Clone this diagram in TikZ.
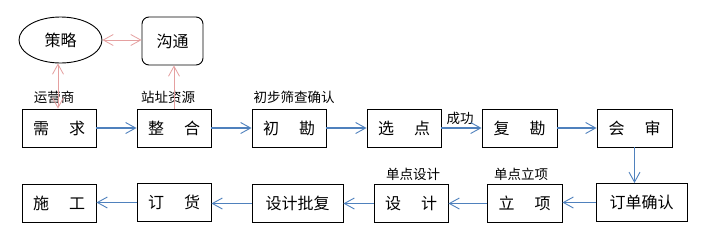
\documentclass[tikz,border=0pt]{standalone}
\usepackage{fontspec}
\setmainfont{Noto Sans CJK SC}
\usetikzlibrary{arrows.meta,shapes.geometric}
\definecolor{flowblue}{RGB}{79,129,189}
\definecolor{linkpink}{RGB}{229,160,160}
\tikzset{
  box/.style={draw=black, line width=0.9pt, minimum width=74pt, minimum height=38pt, inner sep=0pt, font=\fontsize{16}{18}\selectfont},
  lbl/.style={inner sep=0pt, font=\fontsize{13.5}{15}\selectfont},
  flow/.style={draw=flowblue, line width=1.3pt, -{Straight Barb[length=10pt,width=11pt,line width=0.9pt]}},
  link/.style={draw=linkpink, line width=1pt},
  pinktip/.tip={Straight Barb[length=10pt,width=11pt,line width=0.8pt]}
}
\newcommand{\gp}{\hspace{1.25em}}
\begin{document}
\begin{tikzpicture}[x=1pt,y=-1pt]
\useasboundingbox[fill=white] (0,0) rectangle (707,236);
% top circle/rounded
\node[draw=black, line width=0.9pt, ellipse, minimum width=83pt, minimum height=46pt, inner sep=0pt, font=\fontsize{16}{18}\selectfont] (cl) at (60.5,40) {策略};
\node[draw=black, line width=0.9pt, rounded corners=7pt, minimum width=61pt, minimum height=48pt, inner sep=0pt, font=\fontsize{16}{18}\selectfont] (gt) at (172.5,41) {沟通};
% top row
\node[box] (xq) at (59,128) {需\gp 求};
\node[box] (zh) at (174,128) {整\gp 合};
\node[box] (ck) at (289,128) {初\gp 勘};
\node[box] (xd) at (404,128) {选\gp 点};
\node[box, minimum width=75pt] (fk) at (519.5,128) {复\gp 勘};
\node[box, minimum width=75pt] (hs) at (634.5,128) {会\gp 审};
% bottom row
\node[box] (sg) at (59,203.5) {施\gp 工};
\node[box] (dh) at (174,202.5) {订\gp 货};
\node[box, minimum width=91pt] (sp) at (297.5,203.5) {设计批复};
\node[box] (sj) at (411,203.5) {设\gp 计};
\node[box, minimum width=75pt] (lx) at (524.5,203.5) {立\gp 项};
\node[box, minimum width=91pt] (dq) at (641.5,202.5) {订单确认};
% labels
\node[lbl] (l1) at (54,97) {运营商};
\node[lbl] (l2) at (168,97) {站址资源};
\node[lbl] (l3) at (294,97) {初步筛查确认};
\node[lbl] (l4) at (460,118) {成功};
\node[lbl] (l5) at (413,174) {单点设计};
\node[lbl] (l6) at (521,174) {单点立项};
% pink links
\draw[link, pinktip-pinktip] (cl.east) -- (gt.west |- cl.east);
\draw[link, pinktip-pinktip] (cl.south -| 58,0) -- (xq.north -| 58,0);
\draw[link, -pinktip] (zh.north) -- (zh.north |- gt.south);
% flow
\draw[flow] (xq) -- (zh);
\draw[flow] (zh) -- (ck);
\draw[flow] (ck) -- (xd);
\draw[flow] (xd) -- (fk);
\draw[flow] (fk) -- (hs);
\draw[flow] (hs.south) -- (hs.south |- dq.north);
\draw[flow] (dq.west) -- (lx.east |- dq.west);
\draw[flow] (lx) -- (sj);
\draw[flow] (sj) -- (sp);
\draw[flow] (sp.west) -- (dh.east |- sp.west);
\draw[flow] (dh.west) -- (sg.east |- dh.west);
\end{tikzpicture}
\end{document}
